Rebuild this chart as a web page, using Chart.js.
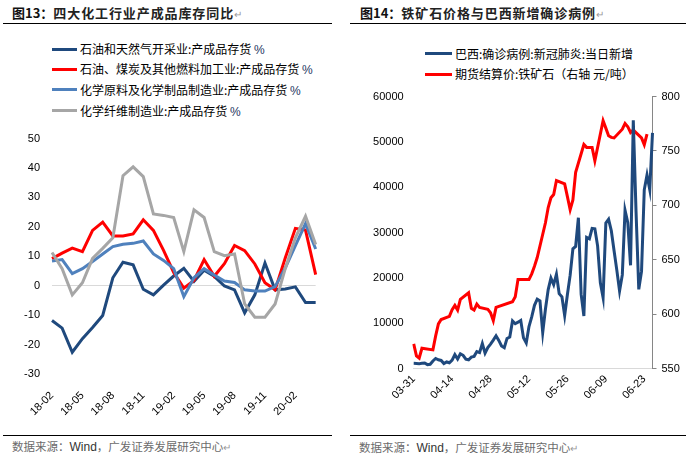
<!DOCTYPE html>
<html><head><meta charset="utf-8">
<script src="https://cdn.jsdelivr.net/npm/chart.js@4.4.0/dist/chart.umd.min.js"></script>
<style>
html,body{margin:0;padding:0;background:#fff;}
body{width:686px;height:464px;position:relative;overflow:hidden;font-family:"Liberation Sans",Arial,sans-serif;}
.abs{position:absolute;white-space:nowrap;}
.title{font-family:"Noto Sans CJK SC";font-weight:700;font-size:13px;line-height:16px;color:#111;}
.title .t{letter-spacing:0.9px;color:#222;}
.rule{position:absolute;height:1px;background:#000;}
.foot{font-family:"Noto Sans CJK SC";font-size:11.5px;line-height:14px;color:#6b6b6b;}
.foot .w{font-family:"Liberation Sans";color:#333;font-size:12px;}
.leg{font-family:"Noto Sans CJK SC";font-size:12px;line-height:14px;color:#000;}
.leg .p{font-family:"Liberation Sans";color:#1F3864;}
.pm{color:#999;font-weight:400;font-size:10px;}
.sw{position:absolute;height:3px;}
canvas{position:absolute;}
</style></head>
<body>
<div class="abs title" style="left:12px;top:5px;">图13：<span class="t">四大化工行业产成品库存同比</span><span class="pm">↵</span></div>
<div class="rule" style="left:3px;top:23px;width:329px;"></div>
<div class="abs title" style="left:360px;top:5px;">图14：<span class="t">铁矿石价格与巴西新增确诊病例</span><span class="pm">↵</span></div>
<div class="rule" style="left:350px;top:23px;width:336px;"></div>

<div class="sw" style="left:52px;top:47.5px;width:25px;background:#1F497D"></div>
<div class="abs leg" style="left:80px;top:42px;">石油和天然气开采业:产成品存货 <span class="p">%</span></div>
<div class="sw" style="left:52px;top:67.5px;width:25px;background:#FF0000"></div>
<div class="abs leg" style="left:80px;top:62px;">石油、煤炭及其他燃料加工业:产成品存货 <span class="p">%</span></div>
<div class="sw" style="left:52px;top:88px;width:25px;background:#4F81BD"></div>
<div class="abs leg" style="left:80px;top:82.5px;">化学原料及化学制品制造业:产成品存货 <span class="p">%</span></div>
<div class="sw" style="left:52px;top:109px;width:25px;background:#A6A6A6"></div>
<div class="abs leg" style="left:80px;top:103.5px;">化学纤维制造业:产成品存货 <span class="p">%</span></div>

<div class="sw" style="left:425px;top:52px;width:27px;background:#1F497D"></div>
<div class="abs leg" style="left:455px;top:46.5px;">巴西:确诊病例:新冠肺炎:当日新增</div>
<div class="sw" style="left:425px;top:72.5px;width:27px;background:#FF0000"></div>
<div class="abs leg" style="left:455px;top:67px;">期货结算价:铁矿石（右轴 元/吨）</div>

<canvas id="cL" width="340" height="300" style="left:0;top:120px;width:340px;height:300px"></canvas>
<canvas id="cR" width="343" height="340" style="left:343px;top:80px;width:343px;height:340px"></canvas>

<div class="rule" style="left:3px;top:435px;width:329px;"></div>
<div class="abs foot" style="left:12px;top:439px;">数据来源：<span class="w">Wind</span>，广发证券发展研究中心<span class="pm">↵</span></div>
<div class="rule" style="left:350px;top:435px;width:336px;"></div>
<div class="abs foot" style="left:359px;top:440px;">数据来源：<span class="w">Wind</span>，广发证券发展研究中心<span class="pm">↵</span></div>

<script>
// ---------- Figure 13 data ----------
const monthLabels = ['18-02','18-03','18-04','18-05','18-06','18-07','18-08','18-09','18-10','18-11','18-12',
  '19-01','19-02','19-03','19-04','19-05','19-06','19-07','19-08','19-09','19-10','19-11','19-12',
  '20-01','20-02','20-03','20-04'];
const oilGasMining = [-11.8,-14.4,-22.6,-18,-14.2,-10.1,2.7,8,7.1,-1.2,-3.1,0.2,3.3,5.9,1.5,5.3,3.2,-0.1,-1.4,-9.2,-3.1,7.7,-1.4,-1.1,-0.4,-5.7,-5.7];
const fuelProcessing = [9.2,11.1,12.8,11.6,18.8,21.6,16.9,16.9,17.6,22.4,18.8,12,4.5,-0.8,1.8,8.9,3.2,7.5,13.7,11.9,7.4,1,-1.4,9.4,19.5,18.9,3.8];
const chemMaterials = [8.4,8.9,4.1,5.8,8.2,10.8,13.3,14.1,14.4,15.2,10.8,8.6,5.8,-3.7,2.7,5.8,3.6,1.6,1.1,-1.4,-1.8,-1.8,-0.3,6,13.6,21.1,12.5];
const chemFiber = [11.3,5.8,-3.1,1,9.3,12.7,16.3,37.4,40.4,37.1,24.4,23.9,23.2,11.6,25.8,23.2,11.6,10.2,10.8,-6.2,-10.7,-10.7,-6.2,5.8,16.3,23.6,14];
const leftAxisMin = -30, leftAxisMax = 50, leftAxisStep = 10;

// ---------- Figure 14 data ----------
const dayLabels = ['03-31',
 '04-01','04-02','04-03','04-04','04-05','04-06','04-07','04-08','04-09','04-10','04-11','04-12','04-13','04-14','04-15',
 '04-16','04-17','04-18','04-19','04-20','04-21','04-22','04-23','04-24','04-25','04-26','04-27','04-28','04-29','04-30',
 '05-01','05-02','05-03','05-04','05-05','05-06','05-07','05-08','05-09','05-10','05-11','05-12','05-13','05-14','05-15',
 '05-16','05-17','05-18','05-19','05-20','05-21','05-22','05-23','05-24','05-25','05-26','05-27','05-28','05-29','05-30','05-31',
 '06-01','06-02','06-03','06-04','06-05','06-06','06-07','06-08','06-09','06-10','06-11','06-12','06-13','06-14','06-15',
 '06-16','06-17','06-18','06-19','06-20','06-21','06-22','06-23','06-24','06-25','06-26'];
const brazilNewCases = [1138,
 1119,1074,1146,1222,852,926,1661,2210,1930,1781,1089,1442,1261,1832,3058,
 2105,3257,2917,2055,1927,2498,2678,3735,3503,5514,3379,4613,5385,6276,7218,
 6209,4970,4588,6633,6935,10503,9888,10222,10611,6760,5632,9258,11385,13944,15305,
 14919,7938,13140,17408,19951,18508,20803,16508,15813,11687,16324,20599,26417,26928,33274,16409,
 11598,28936,28633,30925,30830,27075,18912,15654,32091,32913,30412,25982,21704,17110,20647,
 34918,32188,22765,54771,34666,17459,21432,39436,42725,39483,52000];
const ironOreSettle = [572.6,
 561.6,559.5,568.6,null,null,null,567.1,580,591,595,null,null,598,604,608,
 603.7,613.5,null,null,619.6,605.3,603.7,609.2,606.2,null,null,604.4,601.3,594,606.2,
 null,null,null,null,null,611.4,616,631.9,null,null,631.9,631.9,637,644,652,
 null,null,684,698,707,710,722.8,null,null,719.8,708,696,705,730.4,null,null,
 756,753.3,753.3,753.3,741,null,null,777.8,771,764,762.5,762,null,null,770,
 775.3,772.3,767,769.2,null,null,762,755.8,765.6,null,null];
const casesAxis = {min:0, max:60000, step:10000};
const oreAxis = {min:550, max:800, step:50};

const tickFont = {family:'Liberation Sans', size:11};
const plainNum = v => String(v);

// ---------- Left chart ----------
new Chart(document.getElementById('cL'), {
  type:'line',
  data:{labels:monthLabels, datasets:[
    {data:oilGasMining, borderColor:'#1F497D', borderWidth:3, pointRadius:0, tension:0, order:4},
    {data:fuelProcessing, borderColor:'#FF0000', borderWidth:3, pointRadius:0, tension:0, order:3},
    {data:chemMaterials, borderColor:'#4F81BD', borderWidth:3, pointRadius:0, tension:0, order:2},
    {data:chemFiber, borderColor:'#A6A6A6', borderWidth:3, pointRadius:0, tension:0, order:1}
  ]},
  options:{
    responsive:false, animation:false, devicePixelRatio:1,
    layout:{padding:{top:15,right:15,left:0,bottom:0}},
    plugins:{legend:{display:false}, tooltip:{enabled:false}},
    scales:{
      x:{offset:false, grid:{display:false, drawTicks:false}, border:{display:false},
         ticks:{autoSkip:false, minRotation:45, maxRotation:45, padding:15, color:'#000', font:tickFont,
                callback:(v,i)=> i%3===0 ? monthLabels[i] : ''},
         afterFit:s=>{s.height=46;}},
      y:{min:leftAxisMin, max:leftAxisMax,
         ticks:{stepSize:leftAxisStep, padding:12, color:'#000', font:tickFont, callback:plainNum},
         grid:{drawTicks:false, lineWidth:1, color:c=> (c.tick && c.tick.value===0) ? '#d9d9d9' : 'rgba(0,0,0,0)'},
         border:{display:false},
         afterFit:s=>{s.width=52;}}
    }
  }
});

// ---------- Right chart ----------
new Chart(document.getElementById('cR'), {
  type:'line',
  data:{labels:dayLabels, datasets:[
    {label:'巴西:确诊病例:新冠肺炎:当日新增', data:brazilNewCases, borderColor:'#1F497D', borderWidth:3, pointRadius:0, tension:0, yAxisID:'y', order:0},
    {label:'期货结算价:铁矿石（右轴 元/吨）', data:ironOreSettle, borderColor:'#FF0000', borderWidth:3, pointRadius:0, tension:0, spanGaps:true, yAxisID:'y1', order:1}
  ]},
  options:{
    responsive:false, animation:false, devicePixelRatio:1,
    layout:{padding:{top:16,right:0,left:0,bottom:0}},
    plugins:{legend:{display:false}, tooltip:{enabled:false}},
    scales:{
      x:{offset:false, grid:{display:false, drawTicks:false}, border:{display:true, color:'#d9d9d9'},
         ticks:{autoSkip:false, minRotation:45, maxRotation:45, padding:4, color:'#000', font:tickFont,
                callback:(v,i)=> i%14===0 ? dayLabels[i] : ''},
         afterFit:s=>{s.height=51.5;}},
      y:{position:'left', min:casesAxis.min, max:casesAxis.max,
         ticks:{stepSize:casesAxis.step, padding:10, color:'#000', font:tickFont, callback:plainNum},
         grid:{display:false, drawTicks:false}, border:{display:false},
         afterFit:s=>{s.width=70.7;}},
      y1:{position:'right', min:oreAxis.min, max:oreAxis.max,
         ticks:{stepSize:oreAxis.step, padding:5, color:'#000', font:tickFont, callback:plainNum},
         grid:{drawOnChartArea:false, drawTicks:true, tickLength:4, color:'#868686'},
         border:{display:true, color:'#868686'},
         afterFit:s=>{s.width=33.5;}}
    }
  }
});
</script>
</body></html>
